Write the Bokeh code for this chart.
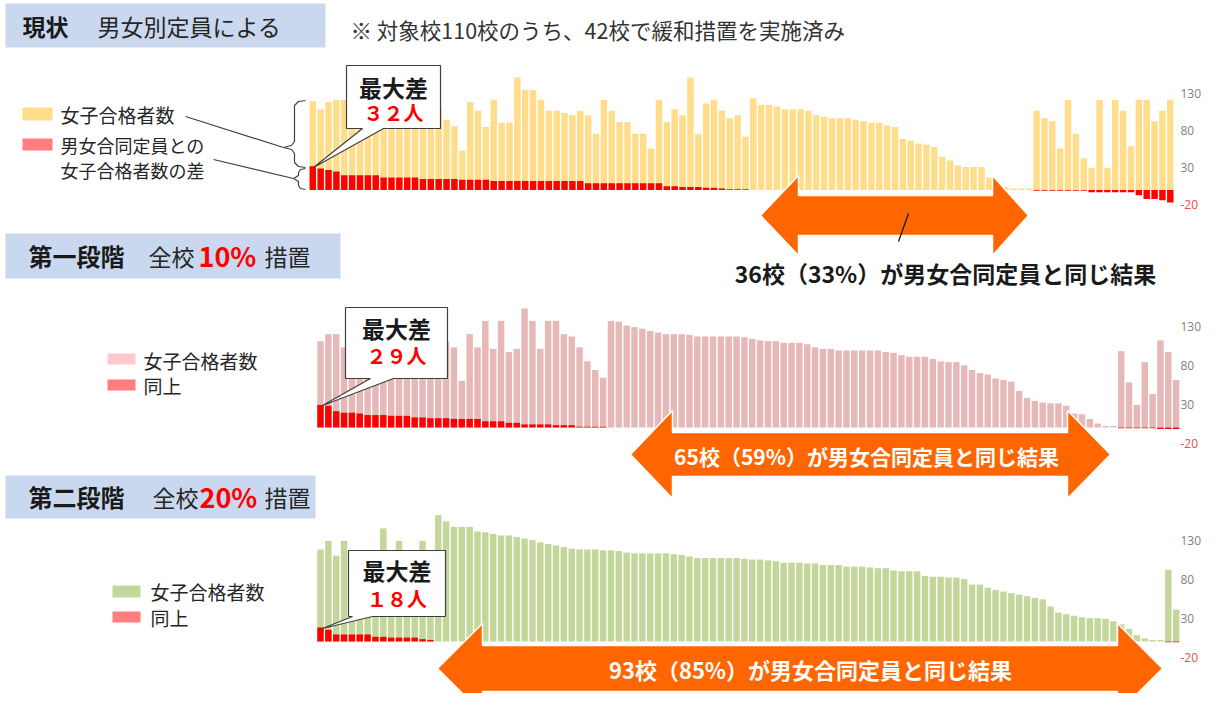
from bokeh.plotting import figure
from bokeh.models import Range1d
from bokeh.core.properties import value
from bokeh.embed import file_html
from bokeh.resources import INLINE

FONT = "Noto Sans CJK JP"

# ---------------- data ----------------
school_no = list(range(1, 111))

# 現状（男女別定員）: 女子合格者数 / 男女合同定員との差
girls_now = [120, 109, 119, 122, 122,
             118, 115, 122, 110, 105, 120, 112, 118, 108, 115, 100, 110,
             95, 86, 53, 119, 107, 85, 122, 91, 91, 152, 135, 135, 122, 107, 107, 104, 101, 107, 101, 76,
             122, 107, 92, 92, 76, 76, 56, 122, 92, 109, 101, 152, 76, 117, 122, 107, 97, 101, 72,
             124, 115, 115, 113, 109, 109, 109, 107, 101, 99, 97, 97, 97, 95, 93, 91, 91, 87, 85, 69,
             67, 63, 61, 58, 45, 40, 33, 31, 31, 31, 17, 9, 4, 2, 2, 2,
             107, 97, 93, 56, 122, 76, 43, 30, 122, 30, 122, 107, 59, 122, 122, 93, 107, 122]
diff_now = [32, 29, 27, 25, 20, 20, 20, 20, 20, 17, 17, 17, 17, 17, 15, 15, 15, 15, 15, 14,
            14, 14, 14, 12, 12, 12, 12, 12, 12, 12, 12, 12, 12, 12, 12, 9, 9, 9, 9, 9,
            9, 9, 9, 9, 9, 5, 5, 4, 4, 4, 3, 3, 2, 1, 1, 1,
            0, 0, 0, 0, 0, 0, 0, 0, 0, 0, 0, 0, 0, 0, 0, 0, 0, 0,
            0, 0, 0, 0, 0, 0, 0, 0, 0, 0, 0, 0, 0, 0, 0, 0, 0, 0,
            -1, -1, -1, -1, -1, -1, -1, -3, -3, -3, -3, -3, -3, -7, -12, -12, -14, -17]

# 第一段階（全校10%措置）
girls_10 = [111, 120, 120, 103, 134,
            135, 120, 110, 137, 120, 115, 137, 110, 120, 103, 120, 110,
            103, 60, 120, 103, 137, 101, 137, 97, 101, 153, 137, 101, 137, 137, 120, 117, 103, 85, 74, 64,
            137, 136, 131, 129, 127, 124, 122, 120, 120, 120, 119, 117, 117, 117, 117, 117, 117, 116, 114,
            112, 111, 111, 109, 109, 109, 107, 103, 101, 101, 99, 99, 99, 99, 99, 99, 97, 96, 93, 91,
            91, 91, 88, 85, 84, 84, 80, 74, 70, 68, 63, 61, 59, 47, 38, 34, 32, 31, 31, 28, 18, 17, 11, 5, 2, 2,
            98, 58, 29, 84, 43, 112, 97, 61]
diff_10 = [29, 28, 21, 19, 19, 18, 16, 16, 16, 15, 15, 15, 13, 13, 12, 12, 12, 11, 11, 11,
           11, 8, 8, 8, 6, 6, 4, 4, 4, 4, 3, 3, 3, 1, 1, 1, 1,
           0, 0, 0, 0, 0, 0, 0, 0, 0, 0, 0, 0, 0, 0, 0, 0, 0, 0, 0, 0,
           0, 0, 0, 0, 0, 0, 0, 0, 0, 0, 0, 0, 0, 0, 0, 0, 0, 0, 0, 0,
           0, 0, 0, 0, 0, 0, 0, 0, 0, 0, 0, 0, 0, 0, 0, 0, 0, 0, 0, 0,
           0, 0, 0, 0, 0,
           -1, -1, -1, -1, -1, -2, -2, -2]

# 第二段階（全校20%措置）
girls_20 = [118, 129, 110, 129, 112, 110, 112, 108, 145, 112, 129, 110, 112, 129, 110, 162, 154,
            147, 147, 147, 141, 140, 138, 136, 136, 134, 132, 130, 127, 125, 123, 121, 119, 118, 118, 118, 117,
            117, 116, 114, 113, 113, 113, 113, 113, 112, 111, 109, 107, 107, 107, 107, 107, 107, 106, 105,
            105, 104, 103, 101, 101, 101, 100, 100, 98, 98, 98, 96, 96, 96, 95, 94, 94, 91, 90, 90,
            90, 84, 83, 83, 82, 82, 80, 73, 73, 69, 66, 64, 62, 60, 58, 56, 54, 45, 37, 35, 33, 31, 30, 30, 29, 26,
            22, 16, 8, 4, 2, 2, 92, 41]
diff_20 = [18, 15, 9, 9, 9, 9, 9, 6, 6, 5, 5, 5, 5, 3, 2,
           0, 0, 0, 0, 0, 0, 0, 0, 0, 0, 0, 0, 0, 0, 0, 0, 0, 0, 0, 0,
           0, 0, 0, 0, 0, 0, 0, 0, 0, 0, 0, 0, 0, 0, 0, 0, 0, 0, 0, 0,
           0, 0, 0, 0, 0, 0, 0, 0, 0, 0, 0, 0, 0, 0, 0, 0, 0, 0, 0, 0,
           0, 0, 0, 0, 0, 0, 0, 0, 0, 0, 0, 0, 0, 0, 0, 0, 0, 0, 0, 0,
           0, 0, 0, 0, 0, 0, 0, 0, 0, 0, 0, 0, 0,
           -1, -1]

tick_values = [130, 80, 30, -20]
tick_labels = ["130", "80", "30", "-20"]

for arr in (girls_now, diff_now, girls_10, diff_10, girls_20, diff_20):
    assert len(arr) == len(school_no), len(arr)

# ---------------- figure (page-pixel coordinates for annotations) ----------------
W, H = 1202, 693
OX, OY = 0, 0
p = figure(width=W, height=H, output_backend="svg", toolbar_location=None,
           x_range=Range1d(OX, OX + W), y_range=Range1d(OY + H, OY),
           x_axis_location=None, y_axis_location=None, min_border=0,
           outline_line_color=None, background_fill_color="white")
p.grid.visible = False


def label(x, y, t, size, color="#262626", bold=False, align="left"):
    p.text(x=[x], y=[y], text=[t], text_font=value(FONT), text_font_size=f"{size}px",
           text_color=color, text_font_style="bold" if bold else "normal",
           text_align=align, text_baseline="middle")


def zen(n):
    return str(n).translate(str.maketrans("0123456789-", "０１２３４５６７８９－"))


RED = "#FF0000"
ORANGE = "#FF6600"

panels = [
    dict(k="1", girls=girls_now, diff=diff_now, color="#FFDD8A", x0=312.3, dx=7.867, z=189.5, s=0.74),
    dict(k="2", girls=girls_10, diff=diff_10, color="#E6B8B7", x0=320.0, dx=7.85, z=427.0, s=0.778),
    dict(k="3", girls=girls_20, diff=diff_20, color="#C4D79B", x0=320.0, dx=7.85, z=641.0, s=0.78),
]

for pn in panels:
    xr, yr = "x" + pn["k"], "y" + pn["k"]
    p.extra_x_ranges[xr] = Range1d(1 + (OX - pn["x0"]) / pn["dx"], 1 + (OX + W - pn["x0"]) / pn["dx"])
    p.extra_y_ranges[yr] = Range1d((pn["z"] - (OY + H)) / pn["s"], (pn["z"] - OY) / pn["s"])
    p.vbar(x=school_no, top=pn["girls"], bottom=0, width=0.82, fill_color=pn["color"],
           line_color=None, x_range_name=xr, y_range_name=yr)
    p.vbar(x=school_no, top=pn["diff"], bottom=0, width=0.82, fill_color=RED,
           line_color=None, x_range_name=xr, y_range_name=yr)
    p.text(x=[1180] * len(tick_values), y=tick_values, text=tick_labels,
           text_color=["#7F7F7F", "#7F7F7F", "#7F7F7F", "#E84C4C"],
           text_font=value("Open Sans"), text_font_size="12px",
           text_baseline="middle", text_align="left", y_range_name=yr)

# ---------------- titles ----------------
BOX = "#C9D8EE"
p.quad(left=[5], right=[325], top=[3], bottom=[47], fill_color=BOX, line_color=None)
label(22, 25, "現状", 23, "#1a1a1a", bold=True)
label(97, 25, "男女別定員による", 23, "#262626")
label(350, 29, "※ 対象校" + str(len(school_no)) + "校のうち、42校で緩和措置を実施済み", 21.5, "#333333")

p.quad(left=[5], right=[340], top=[233], bottom=[278], fill_color=BOX, line_color=None)
label(28, 255, "第一段階", 24, "#1a1a1a", bold=True)
label(148, 255, "全校", 23, "#262626")
label(198, 255, "10%", 27, RED, bold=True)
label(264, 255, "措置", 23, "#262626")

p.quad(left=[5], right=[315], top=[475], bottom=[518], fill_color=BOX, line_color=None)
label(28, 496, "第二段階", 24, "#1a1a1a", bold=True)
label(152, 496, "全校", 23, "#262626")
label(199, 496, "20%", 27, RED, bold=True)
label(264, 496, "措置", 23, "#262626")

# ---------------- legends ----------------
LEG_RED = "#FF7C80"
p.quad(left=[22], right=[52], top=[107], bottom=[120], fill_color="#FFDD8A", line_color=None)
label(60, 114, "女子合格者数", 19)
p.quad(left=[22], right=[52], top=[138], bottom=[150], fill_color=LEG_RED, line_color=None)
label(60, 144, "男女合同定員との", 18)
label(60, 169, "女子合格者数の差", 18)

p.quad(left=[107], right=[135], top=[353], bottom=[364], fill_color="#FFC7CE", line_color=None)
label(143, 360, "女子合格者数", 19)
p.quad(left=[107], right=[135], top=[379], bottom=[390], fill_color=LEG_RED, line_color=None)
label(143, 385, "同上", 19)

p.quad(left=[112], right=[140], top=[585], bottom=[597], fill_color="#C4D79B", line_color=None)
label(150, 591, "女子合格者数", 19)
p.quad(left=[112], right=[140], top=[611], bottom=[622], fill_color=LEG_RED, line_color=None)
label(150, 617, "同上", 19)

# braces and leader lines (panel 1 legend)
LC = "#404040"
p.line(x=[305, 298, 294, 294, 291, 283, 291, 294, 294, 298, 305],
       y=[100, 101, 105, 141, 145, 147, 149, 153, 162, 166, 167], line_color=LC, line_width=1.2)
p.line(x=[305, 300, 298, 298, 293, 298, 298, 300, 305],
       y=[168, 169, 172, 175, 178, 181, 185, 188, 189], line_color=LC, line_width=1.2)
p.line(x=[185, 283], y=[116, 147], line_color=LC, line_width=1.2)
p.line(x=[213, 293], y=[159, 178], line_color=LC, line_width=1.2)

# ---------------- callouts ----------------
def callout(l, r, t, b, e1, e2, tip, txt_y1, txt_y2, diff):
    p.patch(x=[l, r, r, e2, tip[0], e1, l], y=[t, t, b, b, tip[1], b, b],
            fill_color="white", line_color=LC, line_width=1.2)
    cx = (l + r) / 2
    label(cx, txt_y1, "最大差", 23, "#1a1a1a", bold=True, align="center")
    label(cx, txt_y2, zen(max(diff)) + "人", 20, RED, bold=True, align="center")


callout(346, 440, 65, 128, 362, 383, (313, 167), 86, 112, diff_now)
callout(345, 447, 307, 378, 370, 393, (322, 405), 327, 355, diff_10)
callout(348, 445, 550, 616, 352, 372, (322, 628), 569, 598, diff_20)

# ---------------- arrows ----------------
def darrow(tl, bl, br, tr, cy, hh, sh):
    p.patch(x=[tl, bl, bl, br, br, tr, br, br, bl, bl],
            y=[cy, cy - hh, cy - sh, cy - sh, cy - hh, cy, cy + hh, cy + sh, cy + sh, cy + hh],
            fill_color=ORANGE, line_color="white", line_width=1.5)


def same_text(diff):
    n = diff.count(0)
    return f"{n}校（{round(100 * n / len(diff))}%）が男女合同定員と同じ結果"


darrow(760, 798, 992, 1028, 215, 40, 20)
p.line(x=[898, 908], y=[241, 213], line_color="#1a1a1a", line_width=1.3)
label(945, 272, same_text(diff_now), 23, "#1a1a1a", bold=True, align="center")

darrow(630, 672, 1067, 1110, 454, 44, 22)
label(866, 455, same_text(diff_10), 21, "white", bold=True, align="center")

darrow(437, 482, 1117, 1162, 668, 45, 23)
label(810, 668, same_text(diff_20), 22, "white", bold=True, align="center")

open("out.html", "w").write(file_html(p, INLINE))
